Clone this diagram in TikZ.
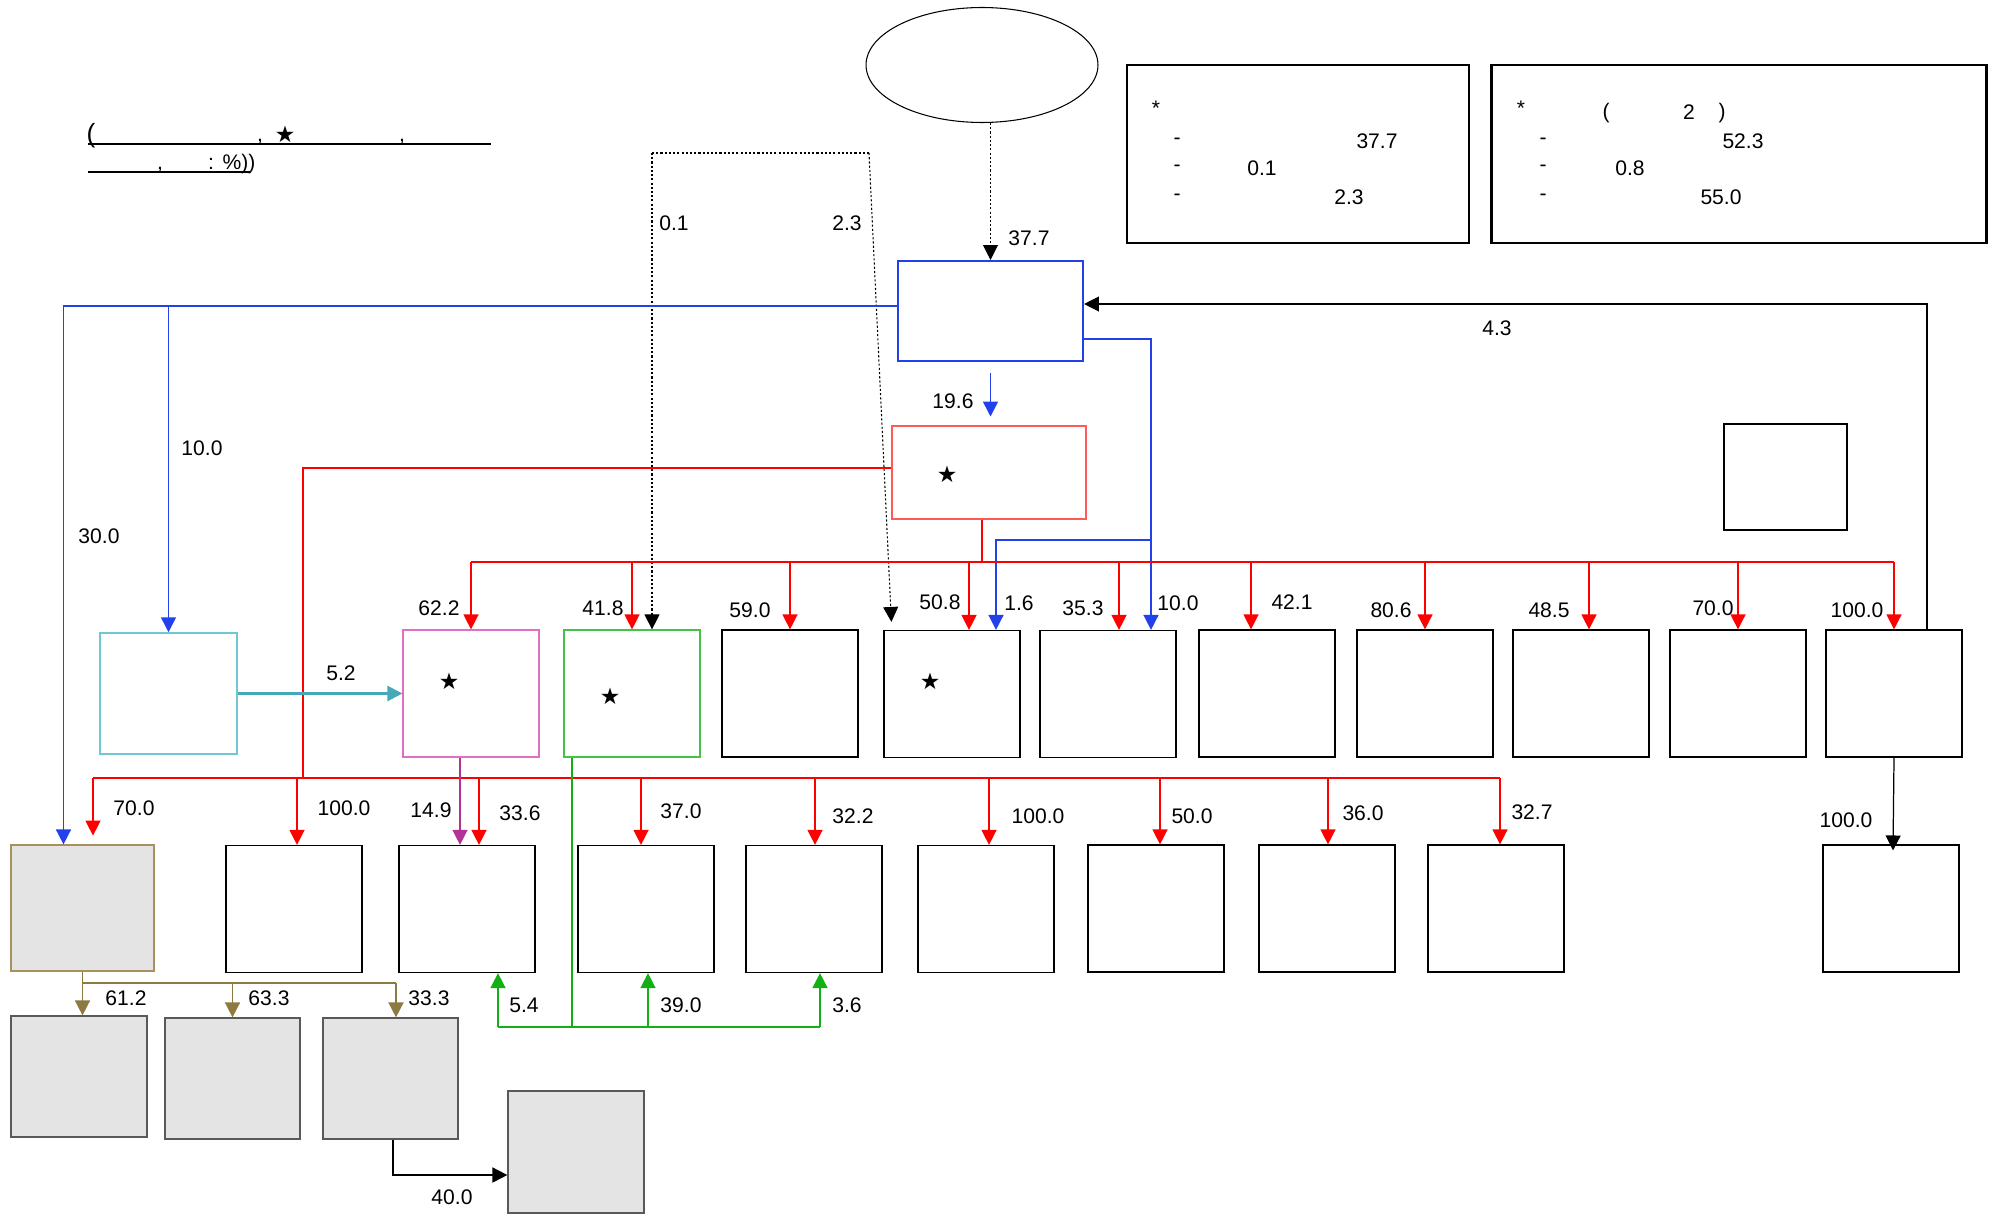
\documentclass[tikz,border=0pt]{standalone}
\usepackage{fontspec}
\setmainfont{Liberation Sans}
\newfontfamily\symfont{DejaVu Sans}
\usetikzlibrary{arrows.meta,calc,shapes.geometric}
\definecolor{cblue}{RGB}{35,65,235}
\definecolor{cred}{RGB}{255,0,0}
\definecolor{credbox}{RGB}{255,90,90}
\definecolor{cmagbox}{RGB}{225,110,195}
\definecolor{cmag}{RGB}{180,50,150}
\definecolor{cgreenbox}{RGB}{70,195,70}
\definecolor{cgreen}{RGB}{20,175,20}
\definecolor{ccyanbox}{RGB}{110,200,210}
\definecolor{ccyan}{RGB}{70,168,184}
\definecolor{ctanbox}{RGB}{168,145,95}
\definecolor{ctan}{RGB}{140,122,64}
\definecolor{cgrayfill}{RGB}{228,228,228}
\begin{document}
\begin{tikzpicture}[x=0.02cm,y=-0.02cm,
  font=\fontsize{12}{14}\selectfont,
  arr/.style={-{Triangle[length=8.5pt,width=8.5pt]}},
  lab/.style={inner sep=0pt},
  bx/.style={draw, rectangle, inner sep=0pt, minimum width=2.72cm, minimum height=2.54cm, line width=0.7pt},
  gbx/.style={bx, fill=cgrayfill, draw=black!65},
  bluel/.style={draw=cblue, line width=0.9pt},
  bluearr/.style={bluel, arr, cblue},
  redl/.style={draw=cred, line width=0.8pt},
  redarr/.style={redl, arr, cred},
  greenl/.style={draw=cgreen, line width=0.9pt},
  greenarr/.style={greenl, arr, cgreen},
  tanl/.style={draw=ctan, line width=0.9pt},
  tanarr/.style={tanl, arr, ctan},
  blkarr/.style={draw=black, line width=0.7pt, arr},
  dots/.style={draw=black, line width=0.6pt, dash pattern=on 1.2pt off 1.2pt},
  star/.style={inner sep=0pt, font=\symfont\fontsize{13}{15}\selectfont},
  legbox/.style={draw, line width=1.3pt, inner sep=0pt}
]
\useasboundingbox (0,0) rectangle (1990,1213);

% ---------- title ----------
\node[lab, anchor=base, font=\fontsize{15}{17}\selectfont] (t1) at (91,143) {(};
\node[lab, anchor=base] (t2) at (260,142) {,};
\node[star] (t3) at (285,134) {★};
\node[lab, anchor=base] (t4) at (402,142) {,};
\draw[line width=0.7pt] (88,144) -- (491,144);
\node[lab, anchor=base] (t5) at (160,170) {,};
\node[lab, anchor=base] (t6) at (211,170) {:};
\node[lab, anchor=base] (t7) at (239,170) {\%))};
\draw[line width=0.7pt] (88,172) -- (250,172);

% ---------- top nodes ----------
\node[draw, ellipse, line width=0.6pt, minimum width=4.64cm, minimum height=2.3cm, inner sep=0pt] (src) at (982,65) {};
\node[draw=cblue, line width=1.2pt, minimum width=3.7cm, minimum height=2cm, inner sep=0pt] (main) at (990.5,311) {};
\node[draw=credbox, line width=0.8pt, minimum width=3.88cm, minimum height=1.86cm, inner sep=0pt] (red) at (989,472.5) {};
\node[star] (s0) at (947,474) {★};

% legend boxes
\node[legbox, minimum width=6.84cm, minimum height=3.56cm] (leg1) at (1298,154) {};
\node[legbox, minimum width=9.9cm, minimum height=3.56cm] (leg2) at (1739,154) {};
\node[lab] (l1a) at (1156,108) {*};
\node[lab] (l1b) at (1177,141) {-};
\node[lab] (l1c) at (1377,141) {37.7};
\node[lab] (l1d) at (1177,168) {-};
\node[lab] (l1e) at (1262,168) {0.1};
\node[lab] (l1f) at (1177,197) {-};
\node[lab] (l1g) at (1349,197) {2.3};
\node[lab] (l2a) at (1521,108) {*};
\node[lab] (l2b) at (1606,113) {(};
\node[lab] (l2c) at (1689,112) {2};
\node[lab] (l2d) at (1722,113) {)};
\node[lab] (l2e) at (1543,141) {-};
\node[lab] (l2f) at (1743,141) {52.3};
\node[lab] (l2g) at (1543,168) {-};
\node[lab] (l2h) at (1630,168) {0.8};
\node[lab] (l2i) at (1543,197) {-};
\node[lab] (l2j) at (1721,197) {55.0};

% small box right
\node[draw, line width=0.7pt, minimum width=2.46cm, minimum height=2.12cm, inner sep=0pt] (sm) at (1785.5,477) {};

% cyan box
\node[draw=ccyanbox, line width=0.9pt, minimum width=2.74cm, minimum height=2.42cm, inner sep=0pt] (cy) at (168.5,693.5) {};

% ---------- row 1 ----------
\node[bx, draw=cmagbox] (b1) at (471,693.5) {};
\node[bx, draw=cgreenbox] (b2) at (632,693.5) {};
\node[bx] (b3) at (790,693.5) {};
\node[bx] (b4) at (952,694) {};
\node[bx] (b5) at (1108,694) {};
\node[bx] (b6) at (1267,693.5) {};
\node[bx] (b7) at (1425,693.5) {};
\node[bx] (b8) at (1581,693.5) {};
\node[bx] (b9) at (1738,693.5) {};
\node[bx] (b10) at (1894,693.5) {};
\node[star] (s1) at (449,681) {★};
\node[star] (s2) at (610,696) {★};
\node[star] (s4) at (930,681) {★};

% ---------- row 2 ----------
\node[bx, fill=cgrayfill, draw=ctanbox, minimum width=2.86cm, minimum height=2.52cm] (A) at (82.5,908) {};
\node[bx] (B) at (294,909) {};
\node[bx] (C) at (467,909) {};
\node[bx] (D) at (646,909) {};
\node[bx] (E) at (814,909) {};
\node[bx] (F) at (986,909) {};
\node[bx] (G) at (1156,908.5) {};
\node[bx] (H) at (1327,908.5) {};
\node[bx] (I) at (1496,908.5) {};
\node[bx] (J) at (1891,908.5) {};

% ---------- row 3 ----------
\node[gbx, minimum width=2.72cm, minimum height=2.42cm] (K) at (79,1076.5) {};
\node[gbx, minimum width=2.7cm, minimum height=2.42cm] (L) at (232.5,1078.5) {};
\node[gbx, minimum width=2.7cm, minimum height=2.42cm] (M) at (390.5,1078.5) {};
\node[gbx, minimum width=2.72cm, minimum height=2.44cm] (N) at (576,1152) {};

% ---------- connectors ----------
% source -> main (dotted)
\draw[dots, arr] (main.north |- src.south) -- (main.north);
% dotted frame 0.1 / 2.3
\coordinate (dl) at (652,153);
\coordinate (dr) at (869,153);
\draw[dots] (dl) -- (dr);
\draw[dots, arr] (dl) -- (dl |- b2.north);
\coordinate (d4) at ($(b4.north west)+(8,-8)$);
\draw[dots, arr] (dr) -- (d4);

% blue from main left
\coordinate (bw) at ($(main.west)+(0,-5)$);
\draw[bluearr] (bw) -| ($(A.north)+(-19,0)$);
\draw[bluearr] (cy.north |- bw) -- (cy.north);
% blue main -> red
\draw[bluearr, shorten <=6pt, shorten >=5pt] (main.south) -- (main.south |- red.north);
% blue main right -> b5, b4
\coordinate (b5t) at ($(b5.north)+(43,0)$);
\draw[bluearr] ($(main.east)+(0,28)$) -| (b5t);
\coordinate (bj) at (b5t |- 0,540);
\coordinate (b4t) at ($(b4.north)+(44,0)$);
\draw[bluearr] (bj) -| (b4t);

% black feedback 4.3
\draw[blkarr] ($(b10.north)+(33,0)$) |- ($(main.east)+(0,-7)$);

% red bus A
\coordinate (busA) at (0,562);
\coordinate (rs) at ($(red.south)+(-7,0)$);
\draw[redl] (rs) -- (rs |- busA);
\draw[redl] (b1.north |- busA) -- (b10.north |- busA);
\draw[redarr] (b1.north |- busA) -- (b1.north);
\draw[redarr] (b2.north |- busA) -- (b2.north);
\draw[redarr] (b3.north |- busA) -- (b3.north);
\coordinate (r4) at ($(b4.north)+(17,0)$);
\draw[redarr] (r4 |- busA) -- (r4);
\coordinate (r5) at ($(b5.north)+(11,0)$);
\draw[redarr] (r5 |- busA) -- (r5);
\coordinate (r6) at ($(b6.north)+(-16,0)$);
\draw[redarr] (r6 |- busA) -- (r6);
\draw[redarr] (b7.north |- busA) -- (b7.north);
\coordinate (r8) at ($(b8.north)+(8,0)$);
\draw[redarr] (r8 |- busA) -- (r8);
\draw[redarr] (b9.north |- busA) -- (b9.north);
\draw[redarr] (b10.north |- busA) -- (b10.north);

% red bus B
\coordinate (busB) at (0,778);
\coordinate (rA) at ($(A.north)+(10.5,0)$);
\coordinate (rB) at ($(B.north)+(3,0)$);
\coordinate (rC) at ($(C.north)+(12,0)$);
\coordinate (rD) at ($(D.north)+(-5,0)$);
\coordinate (rE) at ($(E.north)+(1,0)$);
\coordinate (rF) at ($(F.north)+(3,0)$);
\coordinate (rG) at ($(G.north)+(4,0)$);
\coordinate (rH) at ($(H.north)+(1,0)$);
\coordinate (rI) at ($(I.north)+(4,0)$);
\draw[redl] ($(red.west)+(0,-4.5)$) -| (303,778);
\draw[redl] (rA |- busB) -- (rI |- busB);
\draw[redarr, shorten >=5pt] (rA |- busB) -- (rA);
\draw[redarr] (rB |- busB) -- (rB);
\draw[redarr] (rC |- busB) -- (rC);
\draw[redarr] (rD |- busB) -- (rD);
\draw[redarr] (rE |- busB) -- (rE);
\draw[redarr] (rF |- busB) -- (rF);
\draw[redarr] (rG |- busB) -- (rG);
\draw[redarr] (rH |- busB) -- (rH);
\draw[redarr] (rI |- busB) -- (rI);

% magenta b1 -> C
\draw[draw=cmag, line width=0.8pt, arr, cmag] ($(b1.south)+(-11,0)$) -- ($(C.north)+(-7,0)$);
% cyan -> b1
\draw[draw=ccyan, line width=1.4pt, arr, ccyan] (cy.east) -- (b1.west);

% green from b2
\coordinate (gb) at (0,1027);
\coordinate (g0) at ($(b2.south)+(-60,0)$);
\coordinate (gC) at ($(C.south)+(31,0)$);
\coordinate (gD) at ($(D.south)+(2,0)$);
\coordinate (gE) at ($(E.south)+(6,0)$);
\draw[greenl] (g0) -- (g0 |- gb);
\draw[greenl] (gC |- gb) -- (gE |- gb);
\draw[greenarr] (gC |- gb) -- (gC);
\draw[greenarr] (gD |- gb) -- (gD);
\draw[greenarr] (gE |- gb) -- (gE);

% tan from A
\coordinate (tb) at (0,983);
\coordinate (tK) at ($(K.north)+(3,0)$);
\coordinate (tM) at ($(M.north)+(5.5,0)$);
\draw[tanl] (A.south) -- (A.south |- tb);
\draw[tanl] (A.south |- tb) -- (tM |- tb);
\draw[tanarr] (A.south |- tb) -- (A.south |- K.north);
\draw[tanarr] (L.north |- tb) -- (L.north);
\draw[tanarr] (tM |- tb) -- (tM);

% M -> N
\draw[blkarr, line width=1pt] ($(M.south)+(2.5,0)$) |- ($(N.west)+(0,23)$);
% b10 -> J
\draw[blkarr] (b10.south) -- ($(J.north)+(2,6)$);

% ---------- labels ----------
\node[lab] (n1) at (1029,238) {37.7};
\node[lab] (n2) at (674,223) {0.1};
\node[lab] (n3) at (847,223) {2.3};
\node[lab] (n4) at (1497,328) {4.3};
\node[lab] (n5) at (953,401) {19.6};
\node[lab] (n6) at (202,448) {10.0};
\node[lab] (n7) at (99,536) {30.0};
\node[lab] (n8) at (341,673) {5.2};
\node[lab] (n9) at (439,608) {62.2};
\node[lab] (n10) at (603,608) {41.8};
\node[lab] (n11) at (750,610) {59.0};
\node[lab] (n12) at (940,602) {50.8};
\node[lab] (n13) at (1019,603) {1.6};
\node[lab] (n14) at (1083,608) {35.3};
\node[lab] (n15) at (1178,603) {10.0};
\node[lab] (n16) at (1292,602) {42.1};
\node[lab] (n17) at (1391,610) {80.6};
\node[lab] (n18) at (1549,610) {48.5};
\node[lab] (n19) at (1713,608) {70.0};
\node[lab] (n20) at (1857,610) {100.0};
\node[lab] (n21) at (134,808) {70.0};
\node[lab] (n22) at (344,808) {100.0};
\node[lab] (n23) at (431,810) {14.9};
\node[lab] (n24) at (520,813) {33.6};
\node[lab] (n25) at (681,811) {37.0};
\node[lab] (n26) at (853,816) {32.2};
\node[lab] (n27) at (1038,816) {100.0};
\node[lab] (n28) at (1192,816) {50.0};
\node[lab] (n29) at (1363,813) {36.0};
\node[lab] (n30) at (1532,812) {32.7};
\node[lab] (n31) at (1846,820) {100.0};
\node[lab] (n32) at (126,998) {61.2};
\node[lab] (n33) at (269,998) {63.3};
\node[lab] (n34) at (429,998) {33.3};
\node[lab] (n35) at (524,1005) {5.4};
\node[lab] (n36) at (681,1005) {39.0};
\node[lab] (n37) at (847,1005) {3.6};
\node[lab] (n38) at (452,1197) {40.0};
\end{tikzpicture}
\end{document}
